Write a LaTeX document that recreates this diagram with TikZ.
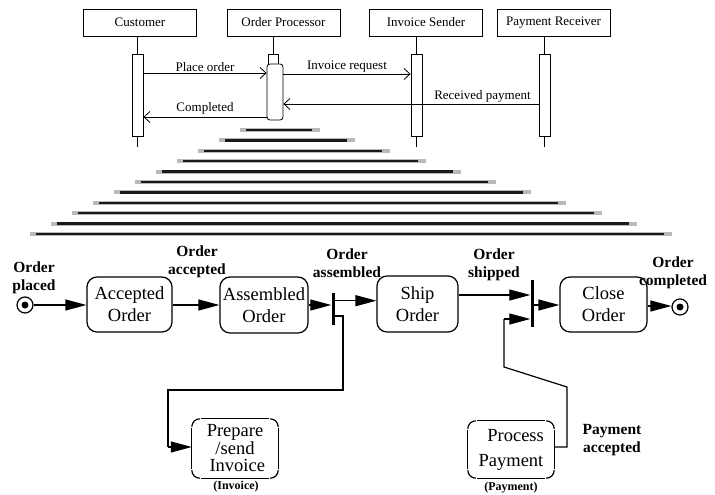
\documentclass[tikz,border=0pt]{standalone}
\usepackage{fontspec}
\setmainfont{Liberation Serif}
\usetikzlibrary{arrows.meta,calc}
\newcommand\gapbox[1]{%
  \draw[actline] ($(#1.north west)+(0,8)$) arc[start angle=180,end angle=90,radius=8pt];
  \draw[actline] ($(#1.north west)+(9.3,0)$) -- ($(#1.north east)+(-9.3,0)$);
  \draw[actline] ($(#1.north east)+(-8,0)$) arc[start angle=90,end angle=0,radius=8pt];
  \draw[actline] ($(#1.north east)+(0,9.3)$) -- ($(#1.south east)+(0,-9.3)$);
  \draw[actline] ($(#1.south east)+(0,-8)$) arc[start angle=0,end angle=-90,radius=8pt];
  \draw[actline] ($(#1.south east)+(-9.3,0)$) -- ($(#1.south west)+(9.3,0)$);
  \draw[actline] ($(#1.south west)+(8,0)$) arc[start angle=-90,end angle=-180,radius=8pt];
  \draw[actline] ($(#1.south west)+(0,-9.3)$) -- ($(#1.north west)+(0,9.3)$);
}
\begin{document}
\begin{tikzpicture}[x=1pt,y=-1pt,
  seqline/.style={line width=0.8pt},
  hdr/.style={draw,seqline,minimum width=113pt,minimum height=27pt,inner sep=0pt,
    font=\fontsize{13}{15}\selectfont},
  actbar/.style={draw,seqline,fill=white,minimum width=11pt,minimum height=82pt,inner sep=0pt},
  msg/.style={seqline,-{Straight Barb[length=6pt,width=11pt]}},
  msglabel/.style={font=\fontsize{13}{15}\selectfont,inner sep=1pt},
  actline/.style={line width=1.2pt},
  actbox/.style={draw,actline,rounded corners=10pt,inner sep=0pt,align=center,
    font=\fontsize{18.5}{22}\selectfont},
  plainbox/.style={inner sep=0pt,align=center,font=\fontsize{18.5}{17.5}\selectfont},
  syncbar/.style={fill=black,minimum width=3pt,inner sep=0pt},
  flow/.style={actline,-{Triangle[length=21pt,width=11pt]}},
  flowline/.style={actline},
  evlabel/.style={font=\bfseries\fontsize{15.5}{18}\selectfont,align=center,inner sep=0pt},
  objlabel/.style={font=\bfseries\fontsize{12}{14}\selectfont,inner sep=0pt},
  stripehalo/.style={gray!55,line width=4pt},
  stripecore/.style={black!90,line width=2.4pt}]
\useasboundingbox (0,0) rectangle (715,495);
\fill[white] (0,0) rectangle (715,495);

% ---------- sequence diagram ----------
\node[hdr] (cust) at (140,22.5) {Customer};
\node[hdr] (op) at (283.5,22.5) {Order Processor};
\node[hdr] (inv) at (426,22.5) {Invoice Sender};
\node[hdr] (pay) at (553.5,22.5) {Payment Receiver};

\node[actbar] (custbar) at (137.5,95) {};
\node[actbar] (invbar) at (416.5,95) {};
\node[actbar] (paybar) at (544.5,95) {};
\node[draw,seqline,fill=white,minimum width=10pt,minimum height=10pt,inner sep=0pt] (opcap) at (273,59) {};
\node[draw,seqline,fill=white,rounded corners=3pt,minimum width=16pt,minimum height=56pt,inner sep=0pt] (opbar) at (275,92) {};

\coordinate (custend) at (137.5,147);
\coordinate (invend) at (416.5,147);
\coordinate (payend) at (544.5,147);

\draw[seqline] (custbar.north |- cust.south) -- (custbar.north);
\draw[seqline] (custbar.south) -- (custend);
\draw[seqline] (opcap.north |- op.south) -- (opcap.north);
\draw[seqline] (invbar.north |- inv.south) -- (invbar.north);
\draw[seqline] (invbar.south) -- (invend);
\draw[seqline] (paybar.north |- pay.south) -- (paybar.north);
\draw[seqline] (paybar.south) -- (payend);

\coordinate (m1) at (0,73);
\coordinate (m2) at (0,74);
\coordinate (m3) at (0,104);
\coordinate (m4) at (0,117);
\draw[msg] (custbar.east |- m1) -- node[msglabel,above] {Place order} (opbar.west |- m1);
\draw[msg] (opbar.east |- m2) -- node[msglabel,above] {Invoice request} (invbar.west |- m2);
\draw[msg] (paybar.west |- m3) -- node[msglabel,above,pos=0.22] {Received payment} (opbar.east |- m3);
\draw[msg] (opbar.west |- m4) -- node[msglabel,above=1.5pt] {Completed} (custbar.east |- m4);

% ---------- zoom stripes ----------
\foreach \yy/\xl/\xr in {130/240/320, 140.4/219/355.2, 150.8/198/390.4, 161.2/177/425.6,
    171.6/156/460.8, 182/135/496, 192.4/114/531.2, 202.8/93/566.4, 213.2/72/601.6,
    223.6/51/636.8, 234/30/672} {
  \draw[stripehalo] (\xl,\yy) -- (\xr,\yy);
  \draw[stripecore] (\xl+6,\yy) -- (\xr-8,\yy);
}

% ---------- activity diagram ----------
\node[circle,draw,actline,minimum size=16pt,inner sep=0pt] (start) at (25,305) {};
\fill (start.center) circle[radius=3.5pt];
\node[actbox,minimum width=85pt,minimum height=55pt] (acc) at (129.5,304.5) {Accepted\\Order};
\node[actbox,minimum width=88pt,minimum height=56pt] (asm) at (264,305) {Assembled\\Order};
\node[syncbar,minimum height=32pt] (fork) at (333,309) {};
\node[actbox,minimum width=81pt,minimum height=56pt] (ship) at (417.5,304) {Ship\\Order};
\node[syncbar,minimum height=47pt] (join) at (532,303.5) {};
\node[actbox,minimum width=87pt,minimum height=55pt] (close) at (603.5,304.5) {Close\\Order};
\node[circle,draw,actline,minimum size=16pt,inner sep=0pt] (end) at (680,307) {};
\fill (end.center) circle[radius=3.5pt];

\node[plainbox,minimum width=86pt,minimum height=59pt] (prep) at (235,448.5) {Prepare\\/send\\\ Invoice};
\gapbox{prep}
\node[plainbox,font=\fontsize{18.5}{25}\selectfont,minimum width=86pt,minimum height=57pt] (proc) at (511,449.5) {\ \ Process\\Payment};
\gapbox{proc}

\coordinate (a1) at (0,305);
\coordinate (a2) at (0,300.7);
\coordinate (a3) at (0,295);
\coordinate (a4) at (0,306);
\draw[flow] (start.east |- a1) -- (acc.west |- a1);
\draw[flow] (acc.east |- a1) -- (asm.west |- a1);
\draw[flow] (asm.east |- a1) -- (fork.west |- a1);
\draw[flow] (fork.east |- a2) -- (ship.west |- a2);
\draw[flow] (ship.east |- a3) -- (join.west |- a3);
\draw[flow] (join.east |- a1) -- (close.west |- a1);
\draw[flow] (close.east |- a4) -- (end.west |- a4);

\coordinate (i0) at (343,316);
\coordinate (i1) at (343,390);
\coordinate (i2) at (168,390);
\coordinate (i3) at (168,447);
\draw[flowline] (fork.east |- i0) -- (i0) -- (i1) -- (i2) -- (i3);
\draw[flow] (i3) -- (prep.west |- i3);

\coordinate (p1) at (567,447);
\coordinate (p2) at (567,387);
\coordinate (p3) at (504,367);
\coordinate (p4) at (504,319);
\draw[flowline] (proc.east |- p1) -- (p1) -- (p2) -- (p3) -- (p4);
\draw[flow] (p4) -- (join.west |- p4);

\node[evlabel] (lplaced) at (34,278) {Order\\placed};
\node[evlabel] (lacc) at (197,262) {Order\\accepted};
\node[evlabel] (lasm) at (347,263) {Order\\assembled};
\node[evlabel] (lship) at (494,265) {Order\\shipped};
\node[evlabel] (lcomp) at (673,273) {Order\\completed};
\node[evlabel] (lpayacc) at (612,440.5) {Payment\\accepted};
\node[objlabel] (linv) at (236,487) {(Invoice)};
\node[objlabel] (lpay) at (511,488) {(Payment)};
\end{tikzpicture}
\end{document}
